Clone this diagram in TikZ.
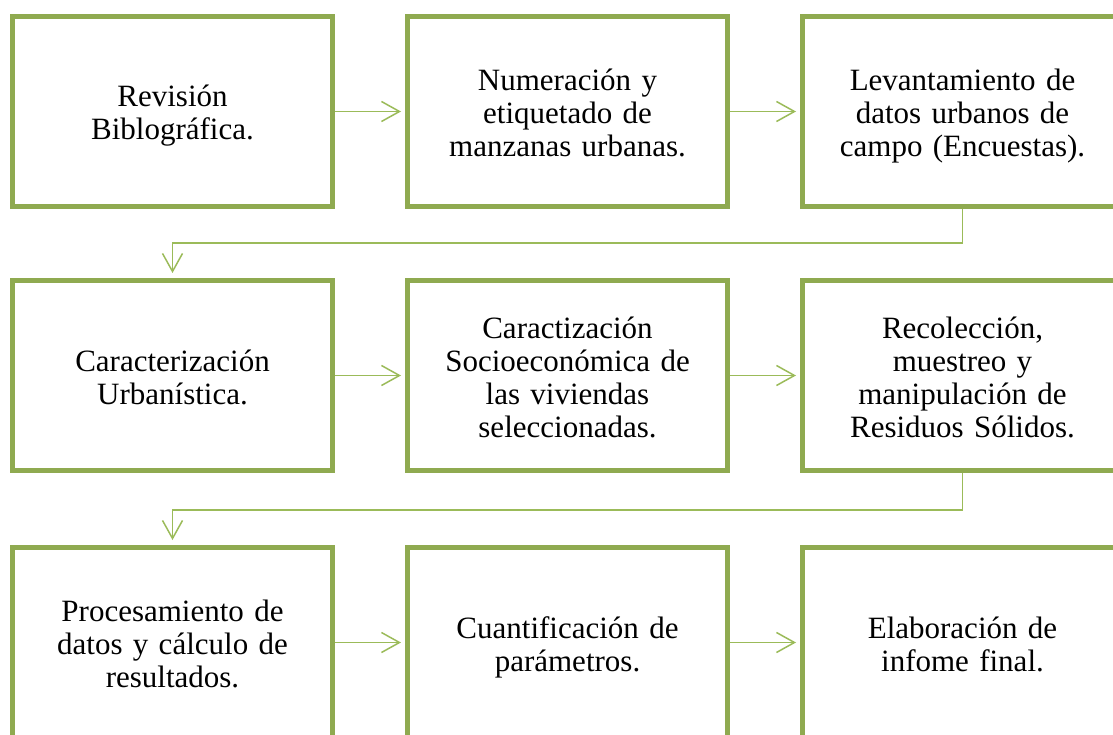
\documentclass[tikz,border=0pt]{standalone}
\usepackage{fontspec}
\setmainfont{Liberation Serif}
\usetikzlibrary{arrows.meta}
\definecolor{boxgreen}{RGB}{143,170,80}
\definecolor{linegreen}{RGB}{155,187,89}
\begin{document}
\begin{tikzpicture}[x=1pt,y=-1pt,
  stepbox/.style={draw=boxgreen,line width=5pt,fill=white,minimum width=320pt,minimum height=190pt,
    inner sep=0pt,align=center,text width=300pt,font=\fontsize{31}{33}\selectfont,
    execute at begin node={\rule{0pt}{36pt}},
    execute at end node={\rule[-12pt]{0pt}{12pt}}},
  conn/.style={draw=linegreen,line width=1.5pt,-{Straight Barb[length=18pt,width=20pt,line width=1.5pt]}}]
\useasboundingbox (0,0) rectangle (1113,735);
\node[stepbox] (b1) at (172.5,111.5) {Revisión\\Biblográfica.};
\node[stepbox] (b2) at (567.5,111.5) {Numeración y\\etiquetado de\\manzanas urbanas.};
\node[stepbox] (b3) at (962.5,111.5) {Levantamiento de\\datos urbanos de\\campo (Encuestas).};
\node[stepbox] (b4) at (172.5,375.5) {Caracterización\\Urbanística.};
\node[stepbox] (b5) at (567.5,375.5) {Caractización\\Socioeconómica de\\las viviendas\\seleccionadas.};
\node[stepbox] (b6) at (962.5,375.5) {Recolección,\\muestreo y\\manipulación de\\Residuos Sólidos.};
\node[stepbox] (b7) at (172.5,642.5) {Procesamiento de\\datos y cálculo de\\resultados.};
\node[stepbox] (b8) at (567.5,642.5) {Cuantificación de\\parámetros.};
\node[stepbox] (b9) at (962.5,642.5) {Elaboración de\\infome final.};
\draw[conn,shorten >=4pt] (b1.east) -- (b2.west);
\draw[conn,shorten >=4pt] (b2.east) -- (b3.west);
\draw[conn,shorten >=4pt] (b4.east) -- (b5.west);
\draw[conn,shorten >=4pt] (b5.east) -- (b6.west);
\draw[conn,shorten >=4pt] (b7.east) -- (b8.west);
\draw[conn,shorten >=4pt] (b8.east) -- (b9.west);
\draw[conn,shorten >=5pt] (b3.south) -- ++(0,34) -| (b4.north);
\draw[conn,shorten >=5pt] (b6.south) -- ++(0,37) -| (b7.north);
\end{tikzpicture}
\end{document}
